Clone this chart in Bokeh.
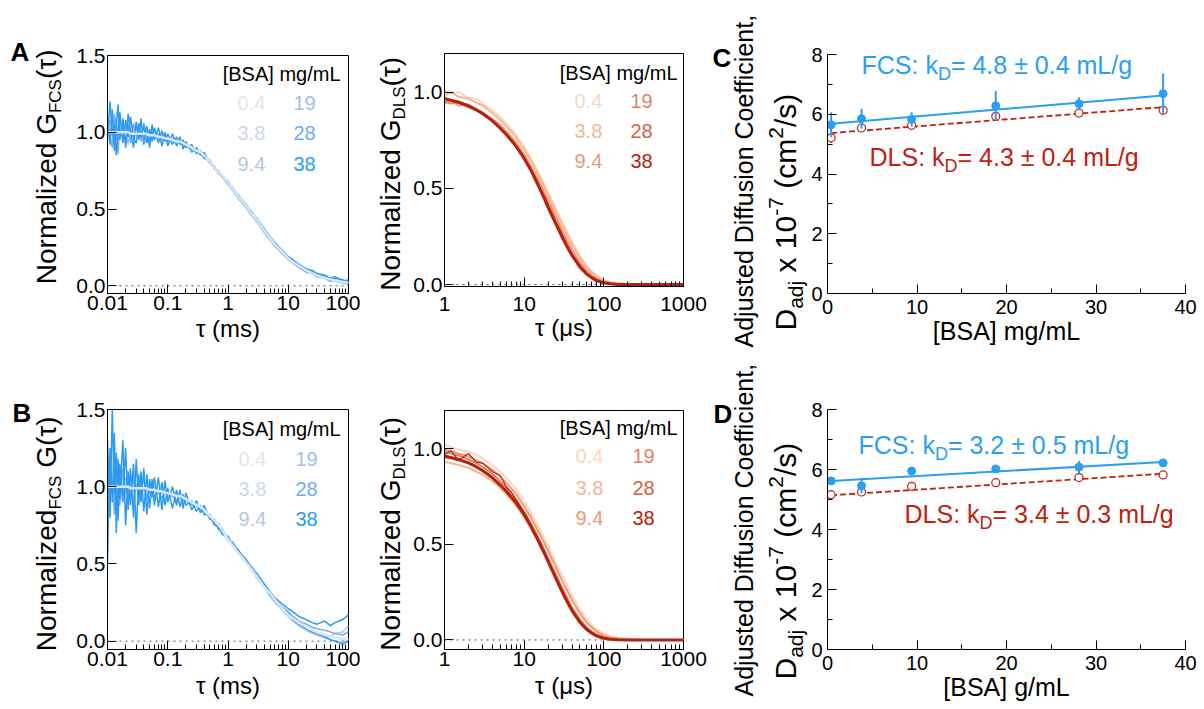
import numpy as np
from bokeh.plotting import figure
from bokeh.models import Label, Span, FixedTicker, CustomJSTickFormatter, Range1d
from bokeh.layouts import row, column
from bokeh.embed import file_html
from bokeh.resources import INLINE

FONT = "Liberation Sans"

# ---------------------------------------------------------------- data
conc_labels = ["0.4", "3.8", "9.4", "19", "28", "38"]
fcs_colors = ["#e2e8e2", "#ccd8ea", "#b4c8e6", "#a0c0ee", "#74aaf0", "#2b9af0"]
dls_colors = ["#f9d6bc", "#f0b898", "#e89c7c", "#de8466", "#cf6446", "#b8200a"]
fcs_blue = "#2a9ff0"
dls_red = "#c0200f"

# FCS lag times (ms)
tau_fcs = [0.010, 0.011, 0.012, 0.013, 0.014, 0.015, 0.016, 0.018, 0.020, 0.022,
           0.024, 0.027, 0.030, 0.033, 0.036, 0.040, 0.045, 0.050, 0.055, 0.060,
           0.070, 0.080, 0.090, 0.10, 0.12, 0.14, 0.16, 0.18, 0.20, 0.25,
           0.30, 0.35, 0.40, 0.50, 0.60, 0.70, 0.80, 1.0, 1.2, 1.5,
           2.0, 2.5, 3.0, 4.0, 5.0, 6.0, 8.0, 10, 12, 15,
           20, 25, 30, 40, 50, 60, 80, 100]

fcsA_fit = [1.00, 1.00, 1.00, 1.00, 1.00, 1.00, 1.00, 1.00, 1.00, 1.00,
            0.99, 0.99, 0.99, 0.99, 0.99, 0.99, 0.99, 0.98, 0.98, 0.98,
            0.97, 0.97, 0.96, 0.96, 0.95, 0.94, 0.94, 0.93, 0.92, 0.90,
            0.88, 0.87, 0.85, 0.81, 0.77, 0.74, 0.72, 0.67, 0.63, 0.58,
            0.52, 0.47, 0.43, 0.36, 0.31, 0.27, 0.22, 0.18, 0.155, 0.13,
            0.10, 0.082, 0.068, 0.052, 0.042, 0.035, 0.026, 0.02]
fcsA_3p8 = [1.02, 0.99, 1.01, 0.98, 1.02, 1.00, 0.99, 1.01, 0.99, 1.00,
            0.99, 1.00, 0.98, 0.99, 0.99, 0.98, 0.99, 0.97, 0.98, 0.97,
            0.97, 0.96, 0.96, 0.95, 0.94, 0.94, 0.93, 0.92, 0.91, 0.89,
            0.87, 0.86, 0.84, 0.80, 0.76, 0.73, 0.71, 0.66, 0.62, 0.57,
            0.51, 0.46, 0.42, 0.35, 0.30, 0.26, 0.21, 0.17, 0.15, 0.12,
            0.10, 0.08, 0.07, 0.05, 0.04, 0.03, 0.02, 0.02]
fcsA_9p4 = [1.03, 0.96, 1.06, 1.00, 0.95, 1.04, 1.01, 0.96, 1.03, 0.99,
            0.97, 1.02, 0.99, 0.97, 1.01, 0.98, 0.97, 1.00, 0.97, 0.98,
            0.97, 0.96, 0.97, 0.95, 0.95, 0.94, 0.93, 0.93, 0.92, 0.90,
            0.88, 0.86, 0.85, 0.80, 0.77, 0.74, 0.71, 0.66, 0.62, 0.57,
            0.51, 0.46, 0.42, 0.35, 0.30, 0.26, 0.21, 0.17, 0.15, 0.12,
            0.09, 0.08, 0.06, 0.05, 0.04, 0.03, 0.02, 0.02]
fcsA_19 = [0.97, 1.08, 1.02, 0.94, 1.10, 0.96, 0.99, 1.05, 1.03, 0.92,
           1.02, 0.97, 1.04, 0.96, 1.00, 0.97, 1.02, 0.96, 0.99, 0.98,
           0.96, 0.99, 0.95, 0.97, 0.94, 0.95, 0.93, 0.94, 0.91, 0.90,
           0.88, 0.87, 0.84, 0.81, 0.77, 0.74, 0.71, 0.67, 0.62, 0.57,
           0.51, 0.46, 0.42, 0.35, 0.30, 0.26, 0.21, 0.17, 0.15, 0.12,
           0.10, 0.08, 0.07, 0.05, 0.04, 0.03, 0.03, 0.02]
fcsA_28 = [1.05, 0.98, 0.90, 1.12, 1.00, 0.86, 1.08, 1.02, 0.94, 1.05,
           0.93, 1.06, 0.98, 1.02, 0.94, 1.06, 0.99, 0.95, 1.00, 0.97,
           0.99, 0.95, 0.98, 0.94, 0.96, 0.93, 0.95, 0.92, 0.93, 0.89,
           0.89, 0.86, 0.86, 0.81, 0.77, 0.74, 0.72, 0.67, 0.63, 0.57,
           0.51, 0.46, 0.42, 0.35, 0.30, 0.26, 0.21, 0.18, 0.15, 0.12,
           0.09, 0.08, 0.06, 0.05, 0.03, 0.04, 0.02, 0.01]
fcsA_38b = [0.95, 1.20, 0.98, 1.05, 0.85, 1.02, 1.13, 0.93, 1.08, 0.97,
            1.10, 0.96, 0.93, 1.06, 0.97, 1.04, 0.93, 1.02, 0.94, 1.03,
            0.93, 1.01, 0.94, 0.99, 0.92, 0.97, 0.92, 0.95, 0.90, 0.92,
            0.86, 0.88, 0.83, 0.82, 0.76, 0.75, 0.71, 0.68, 0.63, 0.59,
            0.52, 0.48, 0.43, 0.37, 0.31, 0.28, 0.22, 0.19, 0.16, 0.13,
            0.10, 0.09, 0.07, 0.06, 0.04, 0.05, 0.04, 0.02]
fcsA_38 = [1.10, 0.92, 1.15, 0.88, 1.06, 1.18, 0.95, 1.09, 0.90, 1.12,
           1.01, 0.90, 1.07, 0.95, 1.09, 0.92, 1.04, 0.90, 1.05, 0.95,
           1.03, 0.91, 1.00, 0.91, 0.99, 0.91, 0.97, 0.89, 0.94, 0.87,
           0.90, 0.85, 0.87, 0.80, 0.78, 0.73, 0.72, 0.66, 0.64, 0.58,
           0.53, 0.47, 0.44, 0.37, 0.32, 0.28, 0.23, 0.19, 0.17, 0.14,
           0.11, 0.10, 0.08, 0.07, 0.05, 0.06, 0.03, 0.04]

fcsB_fit = [1.00, 1.00, 1.00, 1.00, 1.00, 1.00, 1.00, 1.00, 1.00, 1.00,
            0.99, 0.99, 0.99, 0.99, 0.99, 0.99, 0.99, 0.98, 0.98, 0.98,
            0.97, 0.97, 0.96, 0.96, 0.95, 0.94, 0.94, 0.93, 0.92, 0.90,
            0.88, 0.87, 0.85, 0.81, 0.78, 0.75, 0.72, 0.66, 0.62, 0.57,
            0.51, 0.46, 0.42, 0.35, 0.31, 0.27, 0.21, 0.17, 0.145, 0.12,
            0.09, 0.072, 0.058, 0.042, 0.032, 0.025, 0.016, 0.01]
fcsB_3p8 = [1.02, 0.98, 1.03, 1.00, 0.97, 1.01, 1.00, 0.98, 1.01, 0.99,
            0.99, 1.00, 0.98, 0.99, 0.98, 0.99, 0.98, 0.98, 0.97, 0.98,
            0.97, 0.96, 0.96, 0.95, 0.95, 0.94, 0.93, 0.92, 0.91, 0.89,
            0.88, 0.86, 0.84, 0.80, 0.77, 0.74, 0.71, 0.66, 0.62, 0.57,
            0.51, 0.46, 0.42, 0.35, 0.30, 0.26, 0.21, 0.17, 0.15, 0.12,
            0.09, 0.07, 0.06, 0.04, 0.03, 0.02, 0.01, 0.01]
fcsB_9p4 = [1.20, 0.97, 1.02, 0.95, 1.05, 0.98, 1.03, 0.96, 1.00, 0.98,
            1.01, 0.97, 1.00, 0.98, 0.99, 0.97, 0.99, 0.98, 0.97, 0.98,
            0.96, 0.96, 0.96, 0.95, 0.94, 0.94, 0.93, 0.92, 0.91, 0.89,
            0.87, 0.86, 0.84, 0.80, 0.76, 0.73, 0.70, 0.66, 0.62, 0.57,
            0.51, 0.46, 0.41, 0.35, 0.30, 0.26, 0.21, 0.17, 0.14, 0.11,
            0.09, 0.07, 0.05, 0.04, 0.03, 0.05, 0.06, 0.10]
fcsB_19 = [0.90, 1.10, 0.98, 1.04, 0.93, 1.08, 1.00, 0.94, 1.06, 0.97,
           0.96, 1.04, 0.99, 1.01, 0.95, 0.99, 1.03, 0.95, 0.98, 1.00,
           0.95, 0.98, 0.95, 0.96, 0.93, 0.95, 0.92, 0.93, 0.91, 0.89,
           0.87, 0.86, 0.84, 0.80, 0.76, 0.73, 0.71, 0.66, 0.62, 0.57,
           0.51, 0.46, 0.41, 0.35, 0.29, 0.25, 0.20, 0.16, 0.13, 0.10,
           0.07, 0.05, 0.04, 0.02, 0.01, 0.00, -0.01, 0.01]
fcsB_28 = [1.15, 0.92, 1.05, 0.82, 1.20, 1.00, 0.88, 1.12, 0.95, 1.02,
           1.08, 0.90, 1.02, 0.94, 0.98, 1.06, 0.92, 0.98, 1.02, 0.93,
           0.98, 0.92, 0.97, 0.93, 0.95, 0.91, 0.95, 0.90, 0.92, 0.88,
           0.88, 0.85, 0.85, 0.80, 0.77, 0.74, 0.71, 0.67, 0.63, 0.58,
           0.52, 0.47, 0.43, 0.36, 0.31, 0.27, 0.22, 0.19, 0.16, 0.13,
           0.11, 0.09, 0.08, 0.07, 0.06, 0.05, 0.04, 0.06]
fcsB_38b = [0.50, 1.25, 0.90, 1.35, 0.70, 1.18, 0.92, 1.30, 0.75, 1.10,
            0.88, 1.15, 0.70, 1.08, 0.90, 1.12, 0.82, 1.05, 0.93, 1.06,
            0.87, 1.03, 0.88, 0.99, 0.86, 0.98, 0.87, 0.95, 0.88, 0.91,
            0.84, 0.88, 0.82, 0.82, 0.75, 0.76, 0.69, 0.68, 0.62, 0.59,
            0.51, 0.48, 0.42, 0.36, 0.30, 0.27, 0.21, 0.18, 0.14, 0.11,
            0.08, 0.06, 0.05, 0.03, 0.01, 0.00, -0.02, 0.00]
fcsB_38 = [1.30, 0.80, 1.50, 0.95, 1.22, 0.78, 1.15, 0.90, 1.25, 0.85,
           1.12, 0.80, 1.18, 0.88, 1.10, 0.84, 1.08, 0.86, 1.05, 0.88,
           1.06, 0.85, 1.04, 0.90, 1.00, 0.88, 0.98, 0.86, 0.96, 0.85,
           0.91, 0.83, 0.88, 0.79, 0.79, 0.72, 0.73, 0.65, 0.64, 0.58,
           0.53, 0.47, 0.44, 0.37, 0.32, 0.28, 0.24, 0.21, 0.19, 0.16,
           0.14, 0.12, 0.11, 0.13, 0.10, 0.12, 0.14, 0.17]

# DLS lag times (us)
tau_dls = [1, 1.2, 1.5, 2, 2.5, 3, 4, 5, 6, 7,
           8, 10, 12, 15, 18, 20, 25, 30, 35, 40,
           50, 60, 70, 80, 100, 120, 150, 200, 300, 500,
           700, 1000]

dlsA_fit = [0.965, 0.958, 0.947, 0.928, 0.908, 0.888, 0.850, 0.812, 0.778, 0.745,
            0.715, 0.655, 0.598, 0.515, 0.445, 0.400, 0.315, 0.247, 0.192, 0.150,
            0.092, 0.057, 0.036, 0.022, 0.009, 0.004, 0.001, 0.0, 0.0, 0.0,
            0.0, 0.0]
dlsA_0p4 = [1.01, 0.99, 1.00, 0.97, 0.965, 0.94, 0.905, 0.87, 0.835, 0.805,
            0.775, 0.715, 0.66, 0.585, 0.52, 0.48, 0.395, 0.325, 0.268, 0.22,
            0.15, 0.102, 0.07, 0.048, 0.024, 0.013, 0.006, 0.002, 0.0, 0.0,
            0.0, 0.0]
dlsA_3p8 = [0.98, 1.00, 0.975, 0.965, 0.945, 0.93, 0.89, 0.855, 0.82, 0.79,
            0.76, 0.70, 0.645, 0.57, 0.505, 0.465, 0.38, 0.31, 0.255, 0.208,
            0.14, 0.094, 0.064, 0.044, 0.021, 0.011, 0.005, 0.002, 0.0, 0.0,
            0.0, 0.0]
dlsA_9p4 = [0.94, 0.955, 0.93, 0.935, 0.91, 0.895, 0.86, 0.83, 0.795, 0.765,
            0.735, 0.675, 0.62, 0.545, 0.478, 0.438, 0.352, 0.283, 0.228, 0.182,
            0.118, 0.076, 0.05, 0.033, 0.015, 0.007, 0.003, 0.001, 0.0, 0.0,
            0.0, 0.0]
dlsA_19 = [0.95, 0.94, 0.945, 0.92, 0.905, 0.885, 0.85, 0.815, 0.78, 0.75,
           0.72, 0.662, 0.606, 0.53, 0.462, 0.42, 0.335, 0.265, 0.208, 0.163,
           0.103, 0.065, 0.041, 0.026, 0.011, 0.005, 0.002, 0.0, 0.0, 0.0,
           0.0, 0.0]
dlsA_28 = [0.97, 0.955, 0.95, 0.93, 0.91, 0.89, 0.852, 0.814, 0.779, 0.747,
           0.716, 0.656, 0.599, 0.521, 0.452, 0.410, 0.323, 0.252, 0.196, 0.152,
           0.094, 0.057, 0.036, 0.022, 0.009, 0.004, 0.001, 0.0, 0.0, 0.0,
           0.0, 0.0]

dlsB_fit = [0.962, 0.955, 0.944, 0.926, 0.906, 0.886, 0.848, 0.81, 0.776, 0.744,
            0.714, 0.655, 0.598, 0.52, 0.452, 0.41, 0.322, 0.252, 0.196, 0.152,
            0.093, 0.057, 0.036, 0.022, 0.009, 0.004, 0.001, 0.0, 0.0, 0.0,
            0.0, 0.0]
dlsB_0p4 = [1.02, 1.01, 0.995, 0.985, 0.97, 0.95, 0.915, 0.88, 0.845, 0.815,
            0.785, 0.725, 0.67, 0.595, 0.53, 0.49, 0.405, 0.337, 0.28, 0.232,
            0.162, 0.113, 0.08, 0.058, 0.032, 0.02, 0.012, 0.006, 0.002, 0.0,
            0.0, 0.0]
dlsB_3p8 = [0.93, 0.925, 0.915, 0.90, 0.88, 0.865, 0.83, 0.795, 0.76, 0.73,
            0.70, 0.642, 0.588, 0.515, 0.45, 0.41, 0.327, 0.26, 0.206, 0.163,
            0.104, 0.066, 0.043, 0.029, 0.013, 0.006, 0.003, 0.001, 0.0, 0.0,
            0.0, 0.0]
dlsB_9p4 = [0.995, 0.99, 0.975, 0.96, 0.94, 0.925, 0.89, 0.855, 0.82, 0.79,
            0.76, 0.70, 0.645, 0.57, 0.505, 0.465, 0.38, 0.31, 0.255, 0.208,
            0.14, 0.095, 0.066, 0.046, 0.024, 0.013, 0.007, 0.003, 0.0, 0.0,
            0.0, 0.0]
dlsB_19 = [0.985, 0.975, 0.965, 0.945, 0.925, 0.905, 0.868, 0.83, 0.795, 0.763,
           0.732, 0.672, 0.615, 0.538, 0.47, 0.428, 0.342, 0.272, 0.216, 0.17,
           0.108, 0.068, 0.044, 0.029, 0.013, 0.006, 0.002, 0.0, 0.0, 0.0,
           0.0, 0.0]
dlsB_28 = [0.955, 0.95, 0.94, 0.925, 0.905, 0.885, 0.848, 0.81, 0.776, 0.744,
           0.713, 0.655, 0.598, 0.521, 0.453, 0.411, 0.325, 0.255, 0.2, 0.156,
           0.097, 0.06, 0.038, 0.024, 0.01, 0.004, 0.001, 0.0, 0.0, 0.0,
           0.0, 0.0]
dlsB_38 = [0.97, 0.99, 0.94, 0.975, 0.93, 0.925, 0.88, 0.86, 0.80, 0.77,
           0.73, 0.665, 0.605, 0.525, 0.455, 0.414, 0.326, 0.254, 0.198, 0.153,
           0.094, 0.057, 0.036, 0.022, 0.009, 0.004, 0.001, 0.0, 0.0, 0.0,
           0.0, 0.0]

# Adjusted diffusion coefficients (x 1e-7 cm^2/s)
bsa = [0.4, 3.8, 9.4, 18.8, 28.1, 37.5]
fit_x = [0.4, 37.5]
C_fcs = [5.65, 5.85, 5.83, 6.28, 6.35, 6.69]
C_fcs_err = [0.42, 0.33, 0.24, 0.50, 0.22, 0.67]
C_dls = [5.21, 5.54, 5.63, 5.93, 6.04, 6.13]
C_dls_err = [0.17, 0.08, 0.06, 0.08, 0.06, 0.06]
C_fcs_fit = [5.68, 6.63]
C_dls_fit = [5.37, 6.24]
D_fcs = [5.62, 5.46, 5.95, 6.02, 6.08, 6.22]
D_fcs_err = [0.06, 0.26, 0.04, 0.06, 0.20, 0.05]
D_dls = [5.16, 5.25, 5.44, 5.56, 5.73, 5.82]
D_dls_err = [0.04, 0.04, 0.04, 0.04, 0.04, 0.04]
D_fcs_fit = [5.62, 6.25]
D_dls_fit = [5.14, 5.86]
C_kd = ["4.8 ± 0.4", "4.3 ± 0.4"]
D_kd = ["3.2 ± 0.5", "3.4 ± 0.3"]

fcs_ticks = [0.01, 0.1, 1, 10, 100]
dls_ticks = [1, 10, 100, 1000]

# ---------------------------------------------------------------- helpers
CW = {' ': 278, '(': 333, ')': 333, '[': 278, ']': 278, '/': 278, '.': 278, ',': 278,
      ':': 278, '=': 584, '±': 584, '-': 333, 'A': 667, 'B': 667, 'C': 722, 'D': 722,
      'F': 611, 'G': 778, 'L': 556, 'N': 722, 'S': 667, 'a': 556, 'c': 500, 'd': 556,
      'e': 556, 'f': 278, 'g': 556, 'i': 222, 'j': 222, 'k': 500, 'l': 222, 'm': 833,
      'n': 556, 'o': 556, 'r': 333, 's': 500, 't': 278, 'u': 556, 'x': 500, 'z': 500,
      'τ': 450, 'μ': 576}


def tw(s, size):
    return sum(CW.get(c, 556) for c in s) * size / 1000.0


def make_fig(left, top, w, h, fl, ft, fr, fb, xtype, xr, yr, outline=True):
    p = figure(width=w, height=h, x_axis_type=xtype, x_range=Range1d(*xr),
               y_range=Range1d(*yr), output_backend="svg", toolbar_location=None,
               title=None,
               min_border_left=fl - left, min_border_right=left + w - fr,
               min_border_top=ft - top, min_border_bottom=top + h - fb)
    p.xgrid.visible = False
    p.ygrid.visible = False
    p.outline_line_color = "black" if outline else None
    p.outline_line_width = 1
    p.background_fill_color = "white"
    p.border_fill_color = "white"
    return p, ("frame", fl, fb)


def label_fig(left, top, w, h):
    p = figure(width=w, height=h, x_range=Range1d(0, w), y_range=Range1d(0, h),
               x_axis_location=None, y_axis_location=None, output_backend="svg",
               toolbar_location=None, title=None, min_border=0, min_border_left=0,
               min_border_right=0, min_border_top=0, min_border_bottom=0)
    p.xgrid.visible = False
    p.ygrid.visible = False
    p.outline_line_color = None
    p.border_fill_color = "white"
    p.background_fill_color = "white"
    return p, ("fig", left, top, h)


def style_axes(p, xt, xminor, yt, yminor, fsize, xstand, ystand, xfmt=None, yfmt=None,
               maj=9, mnr=5):
    p.xaxis.ticker = FixedTicker(ticks=xt, minor_ticks=xminor)
    p.yaxis.ticker = FixedTicker(ticks=yt, minor_ticks=yminor)
    if xfmt:
        p.xaxis.formatter = CustomJSTickFormatter(code=xfmt)
    if yfmt:
        p.yaxis.formatter = CustomJSTickFormatter(code=yfmt)
    for ax in (p.xaxis[0], p.yaxis[0]):
        ax.major_tick_in = maj
        ax.major_tick_out = 0
        ax.minor_tick_in = mnr
        ax.minor_tick_out = 0
        ax.axis_line_color = "black"
        ax.major_tick_line_color = "black"
        ax.minor_tick_line_color = "black"
        ax.major_label_text_font = FONT
        ax.major_label_text_font_size = f"{fsize}px"
        ax.major_label_text_color = "black"
        ax.axis_label_text_font = FONT
        ax.axis_label_text_font_style = "normal"
        ax.axis_label_text_color = "black"
    p.xaxis.major_label_standoff = xstand
    p.yaxis.major_label_standoff = ystand


MID = 0.35  # distance from baseline to the middle of capitals, in em


def put(p, g, px, py, text, size, color="black", angle=0.0, align="left", bold=False):
    # (px, py) is the baseline anchor in page pixels; Bokeh anchors on the middle
    if angle == 0.0:
        py = py - MID * size
    else:
        px = px - MID * size
    if g[0] == "frame":
        x, y, units = px - g[1], g[2] - py, "screen"
    else:
        x, y, units = px - g[1], g[2] + g[3] - py, "data"
    p.add_layout(Label(x=x, y=y, x_units=units, y_units=units,
                       text=text, text_font=FONT, text_font_size=f"{size}px",
                       text_color=color, angle=angle, text_align=align,
                       text_baseline="middle",
                       text_font_style="bold" if bold else "normal"))


def rich(p, g, px, py, segs, color="black", rotated=False, anchor="left"):
    total = sum(tw(t, s) for t, s, d in segs)
    adv = {"left": 0.0, "center": -total / 2.0, "right": -total}[anchor]
    for t, s, d in segs:
        lead = len(t) - len(t.lstrip(" "))
        a = adv + tw(" " * lead, s)
        txt = t.strip(" ")
        if rotated:
            put(p, g, px + d, py - a, txt, s, color, angle=np.pi / 2)
        else:
            put(p, g, px + a, py + d, txt, s, color)
        adv += tw(t, s)


LOGX_FMT = "return tick < 1 ? tick.toString() : tick.toFixed(0);"
Y1_FMT = "return tick.toFixed(1);"


def decade_minors(dec):
    return [m * d for d in dec[:-1] for m in range(2, 10)]


def corr_panel(left, top, w, h, frame, xr, yr, xt, xstand, traces, fit, fit_style,
               tau, legend_pos, colors, xlabel, xlab_stand):
    fl, ft, fr, fb = frame
    p, g = make_fig(left, top, w, h, fl, ft, fr, fb, "log", xr, yr)
    yt = [0.0, 0.5, 1.0, 1.5] if yr[1] >= 1.5 else [0.0, 0.5, 1.0]
    style_axes(p, xt, decade_minors(xt), yt, [], 21, xstand, 2, LOGX_FMT, Y1_FMT)
    p.xaxis.axis_label = xlabel
    p.xaxis.axis_label_text_font_size = "24px"
    p.xaxis.axis_label_standoff = xlab_stand
    p.add_layout(Span(location=0, dimension="width", line_color="#555555",
                      line_width=1, line_dash="dotted"))
    for ys, ci, lw in traces:
        p.line(tau, ys, line_color=colors[ci], line_width=lw)
    p.line(tau, fit, line_color=fit_style[0], line_width=fit_style[1])
    lx_right, ly0, c1, c2, row_ys = legend_pos
    put(p, g, lx_right, ly0, "[BSA] mg/mL", 20, align="right")
    for i in range(3):
        put(p, g, c1, row_ys[i], conc_labels[i], 20, colors[i])
        put(p, g, c2, row_ys[i], conc_labels[i + 3], 20, colors[i + 3])
    return p


def d_panel(left, top, w, h, frame, fcs, fcs_err, dls, dls_err, fcs_fit, dls_fit, kd,
            kd_pos, xlabel):
    fl, ft, fr, fb = frame
    p, g = make_fig(left, top, w, h, fl, ft, fr, fb, "linear", (0, 40), (0, 8),
                    outline=False)
    style_axes(p, [0, 10, 20, 30, 40], [5, 15, 25, 35], [0, 2, 4, 6, 8], [1, 3, 5, 7],
               20, 6, 5, maj=9, mnr=5)
    p.xaxis.axis_label = xlabel
    p.xaxis.axis_label_text_font_size = "25px"
    p.xaxis.axis_label_standoff = 0
    x = np.array(bsa)
    fa, fe = np.array(fcs), np.array(fcs_err)
    da, de = np.array(dls), np.array(dls_err)
    p.line(fit_x, dls_fit, line_color=dls_red, line_width=1.8, line_dash="6 3")
    p.segment(x, da - de, x, da + de, line_color=dls_red, line_width=1.2)
    p.scatter(x, da, size=8, marker="circle", fill_color="white",
              line_color=dls_red, line_width=1.2)
    p.line(fit_x, fcs_fit, line_color=fcs_blue, line_width=2)
    p.segment(x, fa - fe, x, fa + fe, line_color=fcs_blue, line_width=2)
    p.scatter(x, fa, size=8, marker="circle", fill_color=fcs_blue, line_color=fcs_blue)
    (fx, fy), (dx, dy) = kd_pos
    rich(p, g, fx, fy, [("FCS: k", 25, 0), ("D", 18, 7), ("= " + kd[0] + " mL/g", 25, 0)],
         color=fcs_blue)
    rich(p, g, dx, dy, [("DLS: k", 25, 0), ("D", 18, 7), ("= " + kd[1] + " mL/g", 25, 0)],
         color=dls_red)
    return p


def dadj_labels(p, g, b1, b2):
    rich(p, g, 752, b1, [("Adjusted Diffusion Coefficient,", 25, 0)], rotated=True)
    rich(p, g, 795, b2, [("D", 30, 0), ("adj", 21, 7), (" x 10", 30, 0), ("-7", 21, -12),
                         (" (cm", 30, 0), ("2", 21, -12), ("/s)", 30, 0)], rotated=True)


# ---------------------------------------------------------------- layout
R1_TOP, R1_H = 0, 362
R2_TOP, R2_H = 362, 346
FULL_H = R1_H + R2_H

fcs_lab_A = [("Normalized G", 28, 0), ("FCS", 17, 5), ("(τ)", 28, 0)]
fcs_lab_B = [("Normalized", 28, 0), ("FCS", 17, 5), (" G(τ)", 28, 0)]
dls_lab = [("Normalized G", 28, 0), ("DLS", 17, 5), ("(τ)", 28, 0)]

# label strips (full height) ------------------------------------
L1, gL1 = label_fig(0, 0, 68, FULL_H)
put(L1, gL1, 10, 61, "A", 26, bold=True)
put(L1, gL1, 12, 422, "B", 26, bold=True)
rich(L1, gL1, 56, 165.5, fcs_lab_A, rotated=True, anchor="center")
rich(L1, gL1, 56, 532.5, fcs_lab_B, rotated=True, anchor="center")

L2, gL2 = label_fig(360, 0, 50, FULL_H)
rich(L2, gL2, 400, 172.5, dls_lab, rotated=True, anchor="center")
rich(L2, gL2, 400, 532.5, dls_lab, rotated=True, anchor="center")

L3, gL3 = label_fig(708, 0, 100, FULL_H)
put(L3, gL3, 712, 67, "C", 26, bold=True)
put(L3, gL3, 713, 423, "D", 26, bold=True)
dadj_labels(L3, gL3, 347, 330)
dadj_labels(L3, gL3, 696, 679)

# panels ----------------------------------------------------------
pA1 = corr_panel(
    68, R1_TOP, 292, R1_H, (107, 55, 348, 293), (0.01, 100), (-0.05, 1.5), fcs_ticks, 2,
    [(fcsA_3p8, 1, 1.5), (fcsA_9p4, 2, 1.5), (fcsA_19, 3, 1.5), (fcsA_28, 4, 1.5),
     (fcsA_38b, 5, 1.5), (fcsA_38, 5, 1.5)],
    fcsA_fit, ("#d9e6f5", 2.5), tau_fcs,
    (340, 80, 237, 293, [109, 139, 170]), fcs_colors, "τ (ms)", 2)

pB1 = corr_panel(
    68, R2_TOP, 292, R2_H, (107, 409, 348, 649), (0.01, 100), (-0.054, 1.5), fcs_ticks, 2,
    [(fcsB_3p8, 1, 1.5), (fcsB_9p4, 2, 1.5), (fcsB_19, 3, 1.5), (fcsB_28, 4, 1.5),
     (fcsB_38b, 5, 1.5), (fcsB_38, 5, 1.5)],
    fcsB_fit, ("#d9e6f5", 2.5), tau_fcs,
    (340, 435, 238, 295, [465, 495, 525]), fcs_colors, "τ (ms)", 3)

pA2 = corr_panel(
    410, R1_TOP, 298, R1_H, (442, 53, 683, 286), (1, 1000), (-0.01, 1.2), dls_ticks, 10,
    [(dlsA_0p4, 0, 2), (dlsA_3p8, 1, 2), (dlsA_9p4, 2, 2), (dlsA_19, 3, 2),
     (dlsA_28, 4, 2)],
    dlsA_fit, (dls_colors[5], 3), tau_dls,
    (675, 79, 572, 628, [107, 137, 167]), dls_colors, "τ (μs)", 0)

pB2 = corr_panel(
    410, R2_TOP, 298, R2_H, (442, 410, 683, 649), (1, 1000), (-0.05, 1.2), dls_ticks, 2,
    [(dlsB_0p4, 0, 2), (dlsB_3p8, 1, 2), (dlsB_9p4, 2, 2), (dlsB_19, 3, 2),
     (dlsB_28, 4, 2), (dlsB_38, 5, 1.2)],
    dlsB_fit, (dls_colors[5], 3), tau_dls,
    (675, 434, 573, 630, [462, 494, 524]), dls_colors, "τ (μs)", 3)

pC = d_panel(808, R1_TOP, 395, R1_H, (826, 54, 1185, 293), C_fcs, C_fcs_err, C_dls,
             C_dls_err, C_fcs_fit, C_dls_fit, C_kd, ((860, 73), (868, 165)),
             "[BSA] mg/mL")

pD = d_panel(808, R2_TOP, 395, R2_H, (826, 409, 1185, 649), D_fcs, D_fcs_err, D_dls,
             D_dls_err, D_fcs_fit, D_dls_fit, D_kd, ((857, 453), (903, 522)),
             "[BSA] g/mL")

layout = row(L1, column(pA1, pB1, spacing=0), L2, column(pA2, pB2, spacing=0),
             L3, column(pC, pD, spacing=0), spacing=0)

with open("out.html", "w") as f:
    f.write(file_html(layout, INLINE))
